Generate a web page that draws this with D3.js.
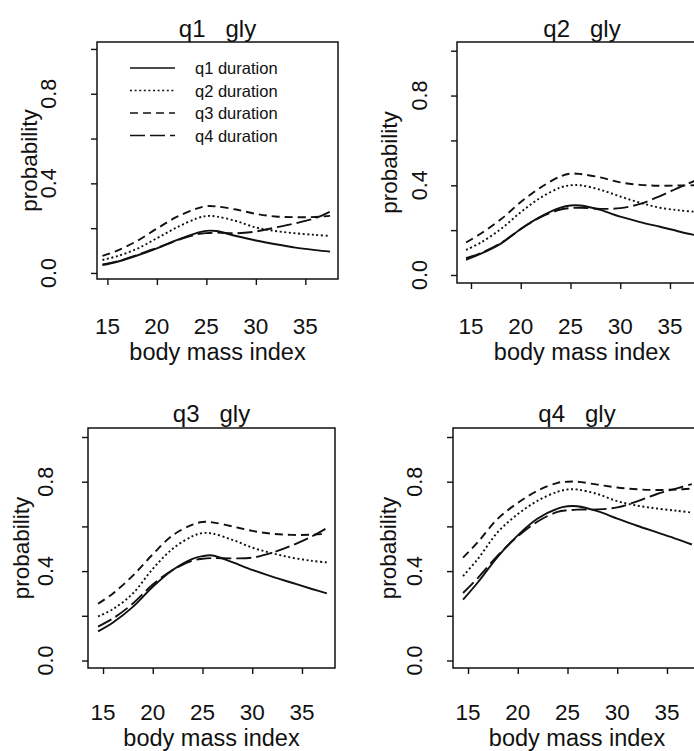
<!DOCTYPE html>
<html>
<head>
<meta charset="utf-8">
<script src="https://cdn.jsdelivr.net/npm/d3@7"></script>
<style>
  html, body { margin: 0; padding: 0; background: #fff; }
  svg { display: block; font-family: "Liberation Sans", Arial, Helvetica, sans-serif; }
  text { white-space: pre; }
</style>
</head>
<body>
<svg id="chart" width="694" height="751"></svg>
<script>
// ---------------- data ----------------
const bmi = [14.5, 16, 18, 20, 22, 24, 25, 26, 28, 30, 32, 34, 36, 37.5];
const seriesNames = ["q1 duration", "q2 duration", "q3 duration", "q4 duration"];
const panelTitles = ["q1   gly", "q2   gly", "q3   gly", "q4   gly"];
const xTicks = [15, 20, 25, 30, 35];
const yTicks = [0, 0.2, 0.4, 0.6, 0.8, 1.0];
const yTickLabels = ["0.0", "", "0.4", "", "0.8", ""];
const xLabel = "body mass index";
const yLabel = "probability";

// rows: q1, q2, q3, q4 duration
const q1Gly = [
  [0.035, 0.050, 0.078, 0.110, 0.147, 0.178, 0.188, 0.187, 0.165, 0.145, 0.128, 0.113, 0.102, 0.095],
  [0.058, 0.075, 0.108, 0.155, 0.203, 0.243, 0.254, 0.252, 0.232, 0.203, 0.187, 0.177, 0.170, 0.165],
  [0.076, 0.100, 0.143, 0.198, 0.250, 0.287, 0.298, 0.297, 0.283, 0.264, 0.252, 0.249, 0.250, 0.255],
  [0.038, 0.052, 0.080, 0.112, 0.145, 0.172, 0.178, 0.180, 0.177, 0.185, 0.203, 0.222, 0.245, 0.274]
];
const q2Gly = [
  [0.068, 0.095, 0.140, 0.205, 0.260, 0.300, 0.310, 0.310, 0.290, 0.260, 0.236, 0.215, 0.193, 0.178],
  [0.112, 0.145, 0.205, 0.280, 0.345, 0.390, 0.400, 0.400, 0.380, 0.350, 0.322, 0.300, 0.288, 0.282],
  [0.145, 0.185, 0.248, 0.325, 0.390, 0.440, 0.452, 0.450, 0.435, 0.413, 0.402, 0.398, 0.399, 0.400],
  [0.075, 0.098, 0.142, 0.205, 0.258, 0.292, 0.298, 0.300, 0.295, 0.298, 0.317, 0.352, 0.392, 0.420]
];
const q3Gly = [
  [0.130, 0.170, 0.240, 0.330, 0.405, 0.455, 0.467, 0.470, 0.440, 0.405, 0.375, 0.348, 0.320, 0.300],
  [0.197, 0.230, 0.300, 0.410, 0.500, 0.556, 0.570, 0.568, 0.540, 0.505, 0.480, 0.460, 0.446, 0.439],
  [0.254, 0.300, 0.380, 0.475, 0.560, 0.608, 0.620, 0.618, 0.600, 0.580, 0.567, 0.562, 0.563, 0.567],
  [0.152, 0.188, 0.255, 0.340, 0.405, 0.447, 0.455, 0.458, 0.457, 0.460, 0.482, 0.515, 0.555, 0.593]
];
const q4Gly = [
  [0.272, 0.350, 0.465, 0.560, 0.635, 0.680, 0.690, 0.690, 0.668, 0.635, 0.603, 0.573, 0.543, 0.519],
  [0.378, 0.455, 0.575, 0.655, 0.715, 0.755, 0.765, 0.765, 0.745, 0.713, 0.693, 0.680, 0.670, 0.662],
  [0.460, 0.530, 0.635, 0.705, 0.760, 0.795, 0.800, 0.800, 0.787, 0.774, 0.766, 0.763, 0.765, 0.769],
  [0.302, 0.370, 0.470, 0.555, 0.622, 0.665, 0.672, 0.675, 0.676, 0.685, 0.712, 0.745, 0.770, 0.789]
];
const panelData = [q1Gly, q2Gly, q3Gly, q4Gly];

// ---------------- layout / style ----------------
const dashes = [null, "2,2.6", "8,5", "15,5"];
const layout = [
  { bx0: 97,  bx1: 338, by0: 42,  by1: 279, xd: [13.95, 38.3],  yd: [-0.027, 1.031], tickLabX: 56,  ylabX: 37,  tickLabY: 334, xlabY: 360, titleY: 36.5, legend: true },
  { bx0: 457, bx1: 707, by0: 42,  by1: 283, xd: [13.593, 38.72], yd: [-0.0357, 1.0388], tickLabX: 427, ylabX: 397, tickLabY: 334, xlabY: 360, titleY: 36.5, legend: false },
  { bx0: 88,  bx1: 335, by0: 428, by1: 668, xd: [13.49, 38.32], yd: [-0.0336, 1.0403], tickLabX: 53,  ylabX: 28.5, tickLabY: 720, xlabY: 746, titleY: 422, legend: false },
  { bx0: 453, bx1: 701, by0: 428, by1: 668, xd: [13.49, 38.42], yd: [-0.0336, 1.0403], tickLabX: 422, ylabX: 395.5, tickLabY: 720, xlabY: 746, titleY: 422, legend: false }
];

const svg = d3.select("#chart");
svg.append("rect").attr("width", 694).attr("height", 751).attr("fill", "#fff");

layout.forEach((L, pi) => {
  const x = d3.scaleLinear().domain(L.xd).range([L.bx0, L.bx1]);
  const y = d3.scaleLinear().domain(L.yd).range([L.by1, L.by0]);
  const g = svg.append("g");

  // curves
  const line = d3.line()
    .x((d, i) => x(bmi[i]))
    .y(d => y(d))
    .curve(d3.curveCatmullRom.alpha(0.5));
  panelData[pi].forEach((vals, si) => {
    g.append("path")
      .attr("d", line(vals))
      .attr("fill", "none")
      .attr("stroke", "#111")
      .attr("stroke-width", 1.9)
      .attr("stroke-dasharray", dashes[si]);
  });

  // box
  g.append("rect")
    .attr("x", L.bx0).attr("y", L.by0)
    .attr("width", L.bx1 - L.bx0).attr("height", L.by1 - L.by0)
    .attr("fill", "none").attr("stroke", "#111").attr("stroke-width", 1.5);

  // x axis ticks + labels
  const xa = d3.axisBottom(x).tickValues(xTicks).tickSize(6).tickFormat("");
  const xg = g.append("g").attr("transform", `translate(0,${L.by1})`).call(xa);
  xg.select(".domain").remove();
  xg.selectAll("line").attr("stroke", "#111").attr("stroke-width", 1.4);
  g.selectAll(null).data(xTicks).enter().append("text")
    .attr("x", d => x(d)).attr("y", L.tickLabY)
    .attr("text-anchor", "middle").attr("font-size", 22.5).attr("fill", "#111")
    .text(d => d);
  g.append("text")
    .attr("x", (L.bx0 + L.bx1) / 2).attr("y", L.xlabY)
    .attr("text-anchor", "middle").attr("font-size", 23.5).attr("fill", "#111")
    .text(xLabel);

  // y axis ticks + labels
  const ya = d3.axisLeft(y).tickValues(yTicks).tickSize(6).tickFormat("");
  const yg = g.append("g").attr("transform", `translate(${L.bx0},0)`).call(ya);
  yg.select(".domain").remove();
  yg.selectAll("line").attr("stroke", "#111").attr("stroke-width", 1.4);
  g.selectAll(null).data(yTicks.map((v, i) => ({ v, t: yTickLabels[i] })).filter(d => d.t)).enter().append("text")
    .attr("transform", d => `translate(${L.tickLabX},${y(d.v)}) rotate(-90)`)
    .attr("text-anchor", "middle").attr("font-size", 21.5).attr("fill", "#111")
    .text(d => d.t);
  g.append("text")
    .attr("transform", `translate(${L.ylabX},${(L.by0 + L.by1) / 2}) rotate(-90)`)
    .attr("text-anchor", "middle").attr("font-size", 22.5).attr("fill", "#111")
    .text(yLabel);

  // title
  g.append("text")
    .attr("x", (L.bx0 + L.bx1) / 2).attr("y", L.titleY)
    .attr("text-anchor", "middle").attr("font-size", 24).attr("fill", "#111")
    .text(panelTitles[pi]);

  // legend
  if (L.legend) {
    const legY = d3.scalePoint().domain(seriesNames).range([68, 135.5]);
    seriesNames.forEach((name, si) => {
      g.append("line")
        .attr("x1", 130).attr("x2", 175)
        .attr("y1", legY(name)).attr("y2", legY(name))
        .attr("stroke", "#111").attr("stroke-width", 1.6)
        .attr("stroke-dasharray", dashes[si]);
      g.append("text")
        .attr("x", 195).attr("y", legY(name) + 6)
        .attr("font-size", 16.5).attr("fill", "#111")
        .text(name);
    });
  }
});
</script>
</body>
</html>
